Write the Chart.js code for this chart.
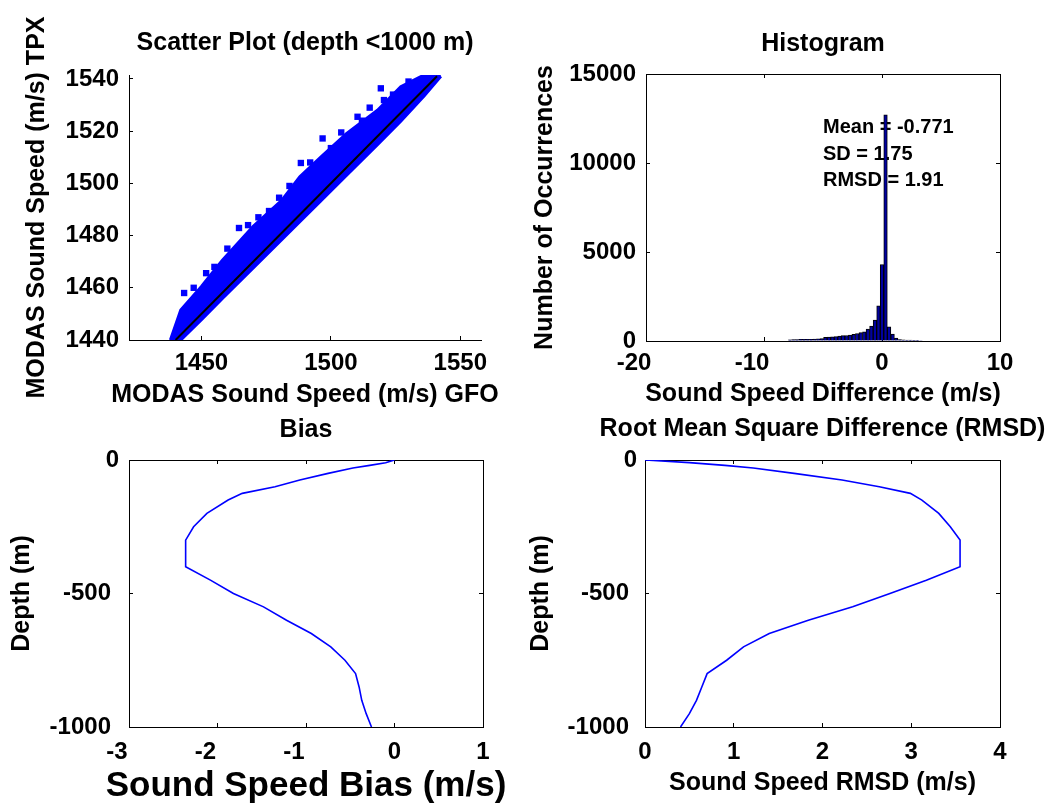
<!DOCTYPE html>
<html>
<head>
<meta charset="utf-8">
<title>MODAS sound speed TPX vs GFO</title>
<script src="https://cdn.jsdelivr.net/npm/chart.js@4.4.1/dist/chart.umd.min.js"></script>
<style>
  html, body { margin: 0; padding: 0; background: #fff; }
  #wrap { position: relative; width: 1058px; height: 808px; overflow: hidden; }
  #wrap canvas { position: absolute; left: 0; top: 0; }
</style>
</head>
<body>
<div id="wrap">
  <canvas id="scatter" width="1058" height="808"></canvas>
  <canvas id="hist" width="1058" height="808"></canvas>
  <canvas id="bias" width="1058" height="808"></canvas>
  <canvas id="rmsd" width="1058" height="808"></canvas>
</div>
<script>
// scatter plot (top left): cloud outline, blobs along its upper edge and the 1:1 line
const bandX      = [1438, 1442, 1450, 1458, 1470, 1481, 1488, 1496, 1506, 1518, 1527, 1536, 1542.5];
const bandTop    = [1440, 1451.5, 1460.5, 1470.5, 1483.5, 1493.5, 1502.5, 1510, 1519, 1528, 1537, 1541.5, 1543];
const bandBottom = [1437, 1440, 1447.8, 1455.8, 1467.6, 1478.4, 1485.3, 1493.2, 1503, 1514.8, 1523.8, 1533.5, 1541];
const outlierX   = [1443.3, 1447, 1451.8, 1455, 1460, 1464.5, 1468, 1472, 1476.1, 1480, 1484, 1488.4, 1492,
                    1496.8, 1500, 1504, 1510.3, 1512, 1515, 1519.3, 1520.5, 1524, 1530];
const outlierY   = [1458, 1460, 1465.6, 1468, 1475, 1482.9, 1484, 1487, 1489.4, 1494.5, 1499, 1507.8, 1508,
                    1517.2, 1513.5, 1519.5, 1525.5, 1524, 1529, 1536.4, 1531.9, 1534, 1539];
const refLine    = [1440, 1541];
const scatterXTicks = [1450, 1500, 1550];
const scatterYTicks = [1440, 1460, 1480, 1500, 1520, 1540];

// histogram (top right)
const histBins   = [-7.8, -7.5, -7.2, -6.9, -6.6, -6.3, -6.0, -5.7, -5.4, -5.1, -4.8, -4.5, -4.2, -3.9, -3.6, -3.3, -3.0, -2.7, -2.4, -2.1,
                    -1.8, -1.5, -1.2, -0.9, -0.6, -0.3, 0.0, 0.3, 0.6, 0.9, 1.2, 1.5, 1.8, 2.1, 2.4, 2.7, 3.0, 3.3];
const histCounts = [70, 80, 80, 90, 90, 100, 100, 110, 120, 130, 200, 220, 230, 250, 280, 300, 310, 330, 380, 420,
                    470, 520, 670, 840, 1180, 1970, 4300, 12700, 790, 390, 170, 80, 60, 50, 50, 40, 40, 30];
const histXTicks = [-20, -10, 0, 10];
const histYTicks = [0, 5000, 10000, 15000];
const statLines  = ['Mean = -0.771', 'SD = 1.75', 'RMSD = 1.91'];
const statX      = -5;
const statY      = [12000, 10500, 9000];

// profiles (bottom)
const depth = [0, -10, -20, -30, -50, -75, -100, -125, -150, -200, -250, -300, -350, -400, -450, -500,
               -550, -600, -650, -700, -750, -800, -850, -900, -950, -1000];
const bias  = [0.00, -0.10, -0.28, -0.47, -0.75, -1.07, -1.35, -1.72, -1.88, -2.12, -2.27, -2.36, -2.36, -2.36, -2.08, -1.82,
               -1.48, -1.22, -0.94, -0.72, -0.56, -0.44, -0.40, -0.37, -0.32, -0.26];
const rmsd  = [0.00, 0.50, 0.90, 1.22, 1.68, 2.22, 2.64, 2.99, 3.12, 3.31, 3.44, 3.55, 3.55, 3.55, 3.17, 2.76,
               2.34, 1.84, 1.40, 1.11, 0.92, 0.70, 0.64, 0.58, 0.50, 0.40];
const biasTicks  = [-3, -2, -1, 0, 1];
const rmsdTicks  = [0, 1, 2, 3, 4];
const depthTicks = [-1000, -500, 0];

const W = 1058, H = 808;
const FONT = "'Liberation Sans', Arial, Helvetica, sans-serif";
const BLUE = '#0000ff';

Chart.defaults.font.family = FONT;
Chart.defaults.font.weight = 'bold';
Chart.defaults.color = '#000';
Chart.defaults.elements.point.radius = 0;
Chart.defaults.elements.line.tension = 0;

const pts = (xs, ys) => xs.map((x, i) => ({ x: x, y: ys[i] }));

// minus signs push the labels a little to the left in the original
const xTickLabel = v => v < 0 ? v + '\u2003' : '' + v;
const yTickLabel = v => v < 0 ? v + '\u2004' : '' + v;

// titles are drawn around the plot area
const panelText = {
  id: 'panelText',
  afterDraw(chart, args, o) {
    if (!o || !o.title) return;
    const { ctx, chartArea: a } = chart;
    const cx = (a.left + a.right) / 2, cy = (a.top + a.bottom) / 2;
    ctx.save();
    ctx.fillStyle = '#000';
    ctx.textAlign = 'center';
    ctx.textBaseline = 'middle';
    ctx.font = 'bold 25px ' + FONT;
    ctx.fillText(o.title, cx, a.top - o.titleGap);
    ctx.font = 'bold ' + (o.xSize || 25) + 'px ' + FONT;
    ctx.fillText(o.xTitle, cx, a.bottom + o.xGap);
    ctx.translate(a.left - o.yGap, cy);
    ctx.rotate(-Math.PI / 2);
    ctx.font = 'bold 25px ' + FONT;
    ctx.fillText(o.yTitle, 0, 0);
    ctx.restore();
  }
};
Chart.register(panelText);

function tickAxis(position, range, values, size, pad, mirror) {
  const horiz = position === 'top' || position === 'bottom';
  return {
    type: 'linear', position: position, min: range[0], max: range[1], offset: false,
    afterBuildTicks: s => { s.ticks = values.map(v => ({ value: v })); },
    afterFit: s => { if (horiz) s.height = size; else s.width = size; },
    grid: { drawOnChartArea: false, drawTicks: true, tickLength: -4, tickColor: '#000', tickWidth: 1, offset: false },
    border: { display: true, color: '#000', width: 1 },
    ticks: {
      display: !mirror, padding: pad, autoSkip: false, maxRotation: 0, minRotation: 0,
      color: '#000', font: { size: 24, weight: 'bold', lineHeight: 1 },
      callback: horiz ? xTickLabel : yTickLabel
    }
  };
}

function panelOptions(p) {
  const scales = {
    x: tickAxis('bottom', p.x, p.xTicks, 40, p.xPad),
    y: tickAxis('left', p.y, p.yTicks, p.left, p.yPad)
  };
  if (p.box) {
    scales.x2 = tickAxis('top', p.x, p.xTicks, 0, 0, true);
    scales.y2 = tickAxis('right', p.y, p.yTicks, 0, 0, true);
  }
  return {
    responsive: false, devicePixelRatio: 1, animation: false, events: [],
    layout: { padding: { left: 0, right: W - p.right, top: p.top, bottom: H - p.bottom - 40 } },
    scales: scales,
    plugins: { legend: { display: false }, tooltip: { enabled: false }, panelText: p.text }
  };
}

new Chart(document.getElementById('scatter'), {
  type: 'line',
  data: {
    datasets: [
      { data: pts(refLine, refLine), borderColor: '#000', borderWidth: 2 },
      { data: pts(outlierX, outlierY), showLine: false, pointStyle: 'rect', pointRadius: 4.5,
        backgroundColor: BLUE, borderColor: BLUE, borderWidth: 0 },
      { data: pts(bandX, bandTop), borderColor: BLUE, borderWidth: 3, backgroundColor: BLUE, fill: '+1' },
      { data: pts(bandX, bandBottom), borderColor: BLUE, borderWidth: 3, fill: false }
    ]
  },
  options: panelOptions({
    left: 129, right: 481, top: 75, bottom: 340,
    x: [1422, 1558], y: [1440, 1541.5], xTicks: scatterXTicks, yTicks: scatterYTicks,
    xPad: 15, yPad: 14, box: false,
    text: { title: 'Scatter Plot (depth <1000 m)', titleGap: 32,
            xTitle: 'MODAS Sound Speed (m/s) GFO', xGap: 55,
            yTitle: 'MODAS Sound Speed (m/s) TPX', yGap: 92 }
  })
});

const histStats = {
  id: 'histStats',
  beforeDatasetsDraw(chart) {
    const { ctx, scales } = chart;
    ctx.save();
    ctx.font = 'bold 20px ' + FONT;
    ctx.fillStyle = '#000';
    ctx.textAlign = 'left';
    ctx.textBaseline = 'middle';
    statLines.forEach((t, i) => {
      ctx.fillText(t, scales.x.getPixelForValue(statX), scales.y.getPixelForValue(statY[i]));
    });
    ctx.restore();
  }
};

new Chart(document.getElementById('hist'), {
  type: 'bar',
  data: {
    datasets: [{
      data: pts(histBins, histCounts),
      backgroundColor: '#0000a0', borderColor: '#000', borderWidth: 1,
      barPercentage: 1, categoryPercentage: 1
    }]
  },
  options: panelOptions({
    left: 646, right: 1000, top: 74, bottom: 341,
    x: [-20, 10], y: [0, 15000], xTicks: histXTicks, yTicks: histYTicks,
    xPad: 14, yPad: 14, box: true,
    text: { title: 'Histogram', titleGap: 30,
            xTitle: 'Sound Speed Difference (m/s)', xGap: 53,
            yTitle: 'Number of Occurrences', yGap: 101 }
  }),
  plugins: [histStats]
});

new Chart(document.getElementById('bias'), {
  type: 'line',
  data: { datasets: [{ data: pts(bias, depth), borderColor: BLUE, borderWidth: 1.6 }] },
  options: panelOptions({
    left: 129, right: 483, top: 460, bottom: 727,
    x: [-3, 1], y: [-1000, 0], xTicks: biasTicks, yTicks: depthTicks,
    xPad: 17, yPad: 14, box: true,
    text: { title: 'Bias', titleGap: 30,
            xTitle: 'Sound Speed Bias (m/s)', xGap: 59, xSize: 35,
            yTitle: 'Depth (m)', yGap: 107 }
  })
});

new Chart(document.getElementById('rmsd'), {
  type: 'line',
  data: { datasets: [{ data: pts(rmsd, depth), borderColor: BLUE, borderWidth: 1.6 }] },
  options: panelOptions({
    left: 645, right: 1000, top: 460, bottom: 727,
    x: [0, 4], y: [-1000, 0], xTicks: rmsdTicks, yTicks: depthTicks,
    xPad: 17, yPad: 12, box: true,
    text: { title: 'Root Mean Square Difference (RMSD)', titleGap: 31,
            xTitle: 'Sound Speed RMSD (m/s)', xGap: 56,
            yTitle: 'Depth (m)', yGap: 104 }
  })
});
</script>
</body>
</html>
